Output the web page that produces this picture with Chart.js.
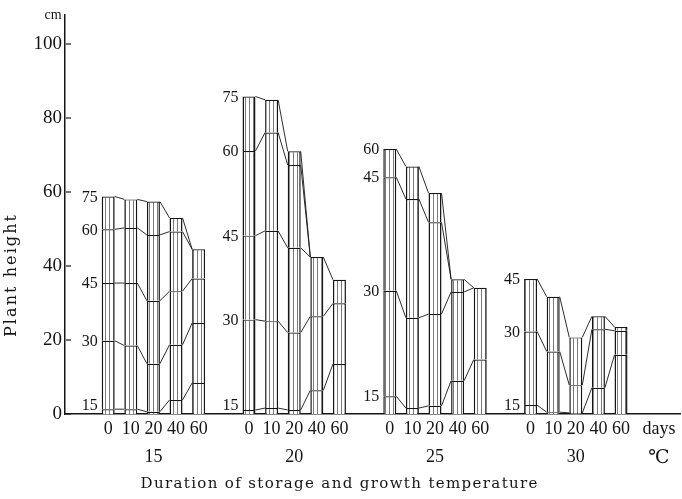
<!DOCTYPE html>
<html>
<head>
<meta charset="utf-8">
<script src="https://cdn.jsdelivr.net/npm/chart.js@4"></script>
<style>
html,body{margin:0;padding:0;background:#fff;}
#wrap{width:682px;height:499px;position:relative;}
</style>
</head>
<body>
<div id="wrap"><canvas id="c" width="682" height="499"></canvas></div>
<script>
// ---- data ----
const temps = [15, 20, 25, 30];                 // growth temperature (°C)
const days = ['0', '10', '20', '40', '60'];      // duration of storage (days)
const stageNames = ['15', '30', '45', '60', '75']; // days after planting
const yTicks = [0, 20, 40, 60, 80, 100];
// cumulative plant height (cm) at each stage; rows = temps, cols = days; null = not reached
const stage15 = [
  [1.3, 1.3, 0.6, 3.8, 8.4],
  [1.1, 1.6, 1.1, 6.4, 13.5],
  [4.8, 1.6, 2.2, 9.0, 14.7],
  [2.4, 0.5, 0.3, 7.1, 16.0]
];
const stage30 = [
  [19.8, 18.5, 13.6, 18.7, 24.6],
  [25.5, 25.1, 22.0, 26.4, 29.9],
  [33.3, 26.0, 27.0, 33.0, 34.1],
  [22.3, 16.9, 7.8, 22.9, 22.5]
];
const stage45 = [
  [35.4, 35.4, 30.6, 33.2, 36.6],
  [48.2, 49.5, 44.9, 42.4, 36.3],
  [64.0, 58.1, 51.8, 36.4, null],
  [36.5, 31.7, 20.7, 26.4, 23.5]
];
const stage60 = [
  [49.9, 50.3, 48.4, 49.3, 44.5],
  [71.1, 76.1, 67.3, null, null],
  [71.6, 66.9, 59.7, null, null],
  [null, null, null, null, null]
];
const stage75 = [
  [58.8, 58.0, 57.4, 53.0, null],
  [85.8, 84.9, 71.0, null, null],
  [null, null, null, null, null],
  [null, null, null, null, null]
];
const stages = [stage15, stage30, stage45, stage60, stage75];

// ---- helpers ----
const FONT = "'Liberation Serif', 'DejaVu Serif', serif";
const INK = '#151515';
function val(k, g, d) { return stages[k][g][d]; }
function topVal(g, d) {
  let t = null;
  for (let k = 0; k < stages.length; k++) if (val(k, g, d) !== null) t = val(k, g, d);
  return t;
}

// hatch pattern (vertical lines)
const pc = document.createElement('canvas');
pc.width = 4; pc.height = 4;
const pctx = pc.getContext('2d');
pctx.fillStyle = '#fff'; pctx.fillRect(0, 0, 4, 4);
pctx.fillStyle = '#7a7a7a'; pctx.fillRect(1, 0, 1, 4);
const hatch = document.getElementById('c').getContext('2d').createPattern(pc, 'repeat');

// datasets: one stack per storage duration, one segment per stage
const datasets = [];
const dsIndex = {}; // `${d}-${k}` -> dataset index
days.forEach((dl, d) => {
  stages.forEach((st, k) => {
    dsIndex[d + '-' + k] = datasets.length;
    datasets.push({
      label: dl + ' days / ' + stageNames[k],
      stack: 'd' + d,
      data: temps.map((t, g) => {
        const v = val(k, g, d);
        if (v === null) return { x: t, y: null };
        const prev = k === 0 ? 0 : val(k - 1, g, d);
        return { x: t, y: +(v - prev).toFixed(2) };
      }),
      backgroundColor: hatch,
      borderColor: INK,
      borderWidth: { left: 1.5, right: 1.5, top: 1.2, bottom: 0 },
      borderSkipped: 'start',
      categoryPercentage: 0.803,
      barPercentage: 0.575
    });
  });
});

function barEl(chart, g, d) {
  return chart.getDatasetMeta(dsIndex[d + '-0']).data[g];
}

const decor = {
  id: 'decor',
  afterDatasetsDraw(chart) {
    const ctx = chart.ctx;
    const ys = chart.scales.y;
    const area = chart.chartArea;
    ctx.save();
    // connecting lines between bars of each stage
    ctx.strokeStyle = INK;
    ctx.lineWidth = 0.9;
    temps.forEach((t, g) => {
      for (let d = 0; d < days.length - 1; d++) {
        const b1 = barEl(chart, g, d), b2 = barEl(chart, g, d + 1);
        for (let k = 0; k < stages.length; k++) {
          let v1 = val(k, g, d), v2 = val(k, g, d + 1);
          if (v1 === null && v2 === null) continue;
          if (v1 === null) v1 = topVal(g, d);
          if (v2 === null) v2 = topVal(g, d + 1);
          ctx.beginPath();
          ctx.moveTo(b1.x + b1.width / 2, ys.getPixelForValue(v1));
          ctx.lineTo(b2.x - b2.width / 2, ys.getPixelForValue(v2));
          ctx.stroke();
        }
      }
    });
    // y tick marks (inside the axis)
    ctx.lineWidth = 1.2;
    yTicks.forEach(v => {
      const y = ys.getPixelForValue(v);
      ctx.beginPath();
      ctx.moveTo(area.left + 1, y);
      ctx.lineTo(area.left + 6, y);
      ctx.stroke();
    });
    ctx.fillStyle = INK;
    // stage labels left of first bar in each group
    ctx.font = '16px ' + FONT;
    ctx.textAlign = 'right';
    ctx.textBaseline = 'middle';
    temps.forEach((t, g) => {
      const b = barEl(chart, g, 0);
      for (let k = 0; k < stages.length; k++) {
        const v = val(k, g, 0);
        if (v === null) continue;
        const y = Math.min(ys.getPixelForValue(v), area.bottom - 9);
        ctx.fillText(stageNames[k], b.x - b.width / 2 - 4, y + 1);
      }
    });
    // storage-duration labels under each bar
    ctx.font = '18px ' + FONT;
    ctx.textAlign = 'center';
    temps.forEach((t, g) => {
      days.forEach((dl, d) => {
        const b = barEl(chart, g, d);
        ctx.fillText(dl, b.x, area.bottom + 15);
      });
    });
    ctx.fillText('days', 659, area.bottom + 15);
    ctx.font = "19px 'Liberation Serif', 'DejaVu Serif', 'DejaVu Sans', 'Noto Sans CJK JP'";
    ctx.fillText('\u2103', 659, area.bottom + 44);
    // unit
    ctx.font = '14px ' + FONT;
    ctx.fillText('cm', 53, 15);
    // axis titles with wide spacing
    function spaced(text, font, target, cx, cy, rot) {
      ctx.save();
      ctx.font = font;
      ctx.letterSpacing = '0px';
      const w = ctx.measureText(text).width;
      const sp = (target - w) / (text.length - 1);
      ctx.letterSpacing = sp + 'px';
      ctx.translate(cx, cy);
      if (rot) ctx.rotate(rot);
      ctx.textAlign = 'left';
      ctx.textBaseline = 'middle';
      ctx.fillText(text, -target / 2, 0);
      ctx.restore();
    }
    spaced('Duration of storage and growth temperature', "15px 'DejaVu Serif', serif", 397, 339, 484, 0);
    spaced('Plant height', "16px 'DejaVu Serif', serif", 122, 12, 276, -Math.PI / 2);
    ctx.restore();
  }
};

new Chart(document.getElementById('c'), {
  type: 'bar',
  data: { datasets },
  options: {
    responsive: false,
    animation: false,
    events: [],
    layout: { padding: { top: 3, right: 2, left: 0, bottom: 0 } },
    plugins: { legend: { display: false }, tooltip: { enabled: false } },
    scales: {
      x: {
        type: 'linear',
        stacked: true,
        offset: false,
        min: 11.86,
        max: 33.7,
        afterBuildTicks: s => { s.ticks = temps.map(v => ({ value: v })); },
        afterFit: s => { s.height = 85; },
        grid: { display: false, drawTicks: false, offset: false },
        border: { display: true, color: INK, width: 1.5 },
        ticks: {
          color: INK,
          font: { family: FONT, size: 18 },
          padding: 32,
          maxRotation: 0,
          autoSkip: false,
          callback: v => String(v)
        }
      },
      y: {
        stacked: true,
        min: 0,
        max: 108,
        afterBuildTicks: s => { s.ticks = yTicks.map(v => ({ value: v })); },
        afterFit: s => { s.width = 65; },
        grid: { display: false, drawTicks: false },
        border: { display: true, color: INK, width: 1.5 },
        ticks: {
          color: INK,
          font: { family: FONT, size: 19 },
          padding: 3,
          callback: v => String(v)
        }
      }
    }
  },
  plugins: [decor]
});
</script>
</body>
</html>
